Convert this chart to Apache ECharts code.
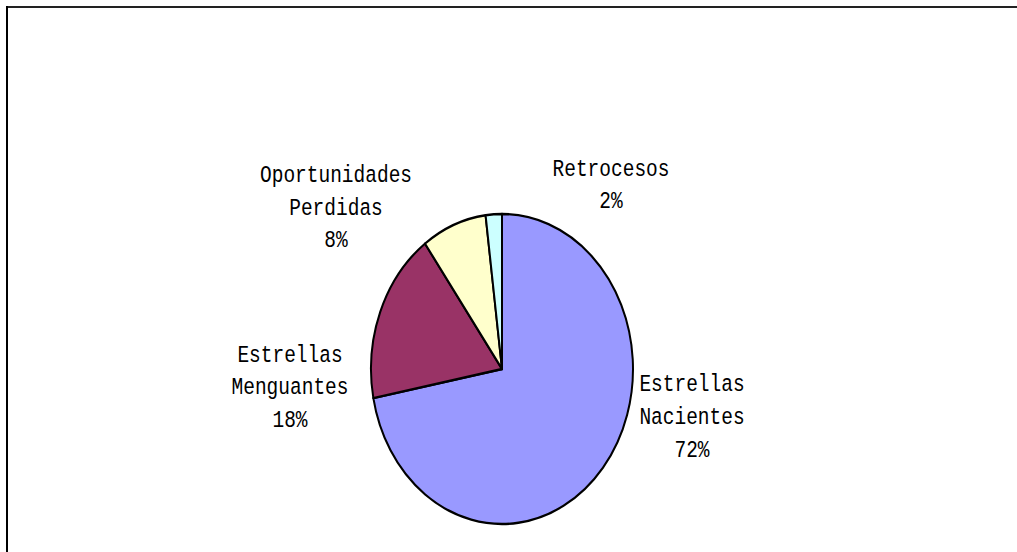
<!DOCTYPE html>
<html>
<head>
<meta charset="utf-8">
<script src="https://cdn.jsdelivr.net/npm/echarts@6/dist/echarts.min.js"></script>
<style>
  html, body { margin: 0; padding: 0; background: #fff; overflow: hidden; width: 1017px; height: 552px; }
  #page { position: relative; width: 1017px; height: 552px; overflow: hidden; background: #fff; }
  .rule { position: absolute; }
  #ruleTop { left: 6px; top: 6px; width: 1200px; height: 2px; background: #222; }
  #ruleLeft { left: 6px; top: 6px; width: 2px; height: 600px; background: #000; }
  /* the original picture is an Excel pie stretched vertically, text included */
  #chart {
    position: absolute; left: 0; top: 0; width: 1017px; height: 552px;
    transform-origin: 502px 369px;
    transform: scale(1, 1.183);
  }
</style>
</head>
<body>
<div id="page">
  <div id="chart"></div>
  <div class="rule" id="ruleTop"></div>
  <div class="rule" id="ruleLeft"></div>
</div>
<script>
// 数据
const categories = ['Estrellas Nacientes', 'Estrellas Menguantes', 'Oportunidades Perdidas', 'Retrocesos'];
const values = [72, 18, 8, 2];

const sliceColors = ['#9999FF', '#993366', '#FFFFCC', '#CCFFFF'];
// label centres (chart coords, before the vertical stretch)
const labelSpots = [[692, 410], [290, 385], [336, 233], [611, 214]];

const chart = echarts.init(document.getElementById('chart'), null, { renderer: 'svg' });

const option = {
  animation: false,
  backgroundColor: 'transparent',
  series: [
    {
      type: 'pie',
      center: [502, 369],
      radius: 131,
      startAngle: 90,
      clockwise: true,
      avoidLabelOverlap: false,
      emphasis: { disabled: true },
      itemStyle: { borderColor: '#000', borderWidth: 2 },
      labelLine: { show: false },
      label: {
        show: true,
        position: 'outside',
        color: '#000',
        fontFamily: '"Liberation Mono", "Courier New", monospace',
        fontSize: 19.5,
        lineHeight: 27.5,
        align: 'center',
        formatter: (p) => p.name.replace(' ', '\n') + '\n' + Math.round(p.percent) + '%',
      },
      labelLayout: (params) => ({
        x: labelSpots[params.dataIndex][0],
        y: labelSpots[params.dataIndex][1],
        align: 'center',
        verticalAlign: 'middle',
      }),
      data: categories.map((name, i) => ({
        name,
        value: values[i],
        itemStyle: { color: sliceColors[i] },
      })),
    },
  ],
};

chart.setOption(option);
</script>
</body>
</html>
